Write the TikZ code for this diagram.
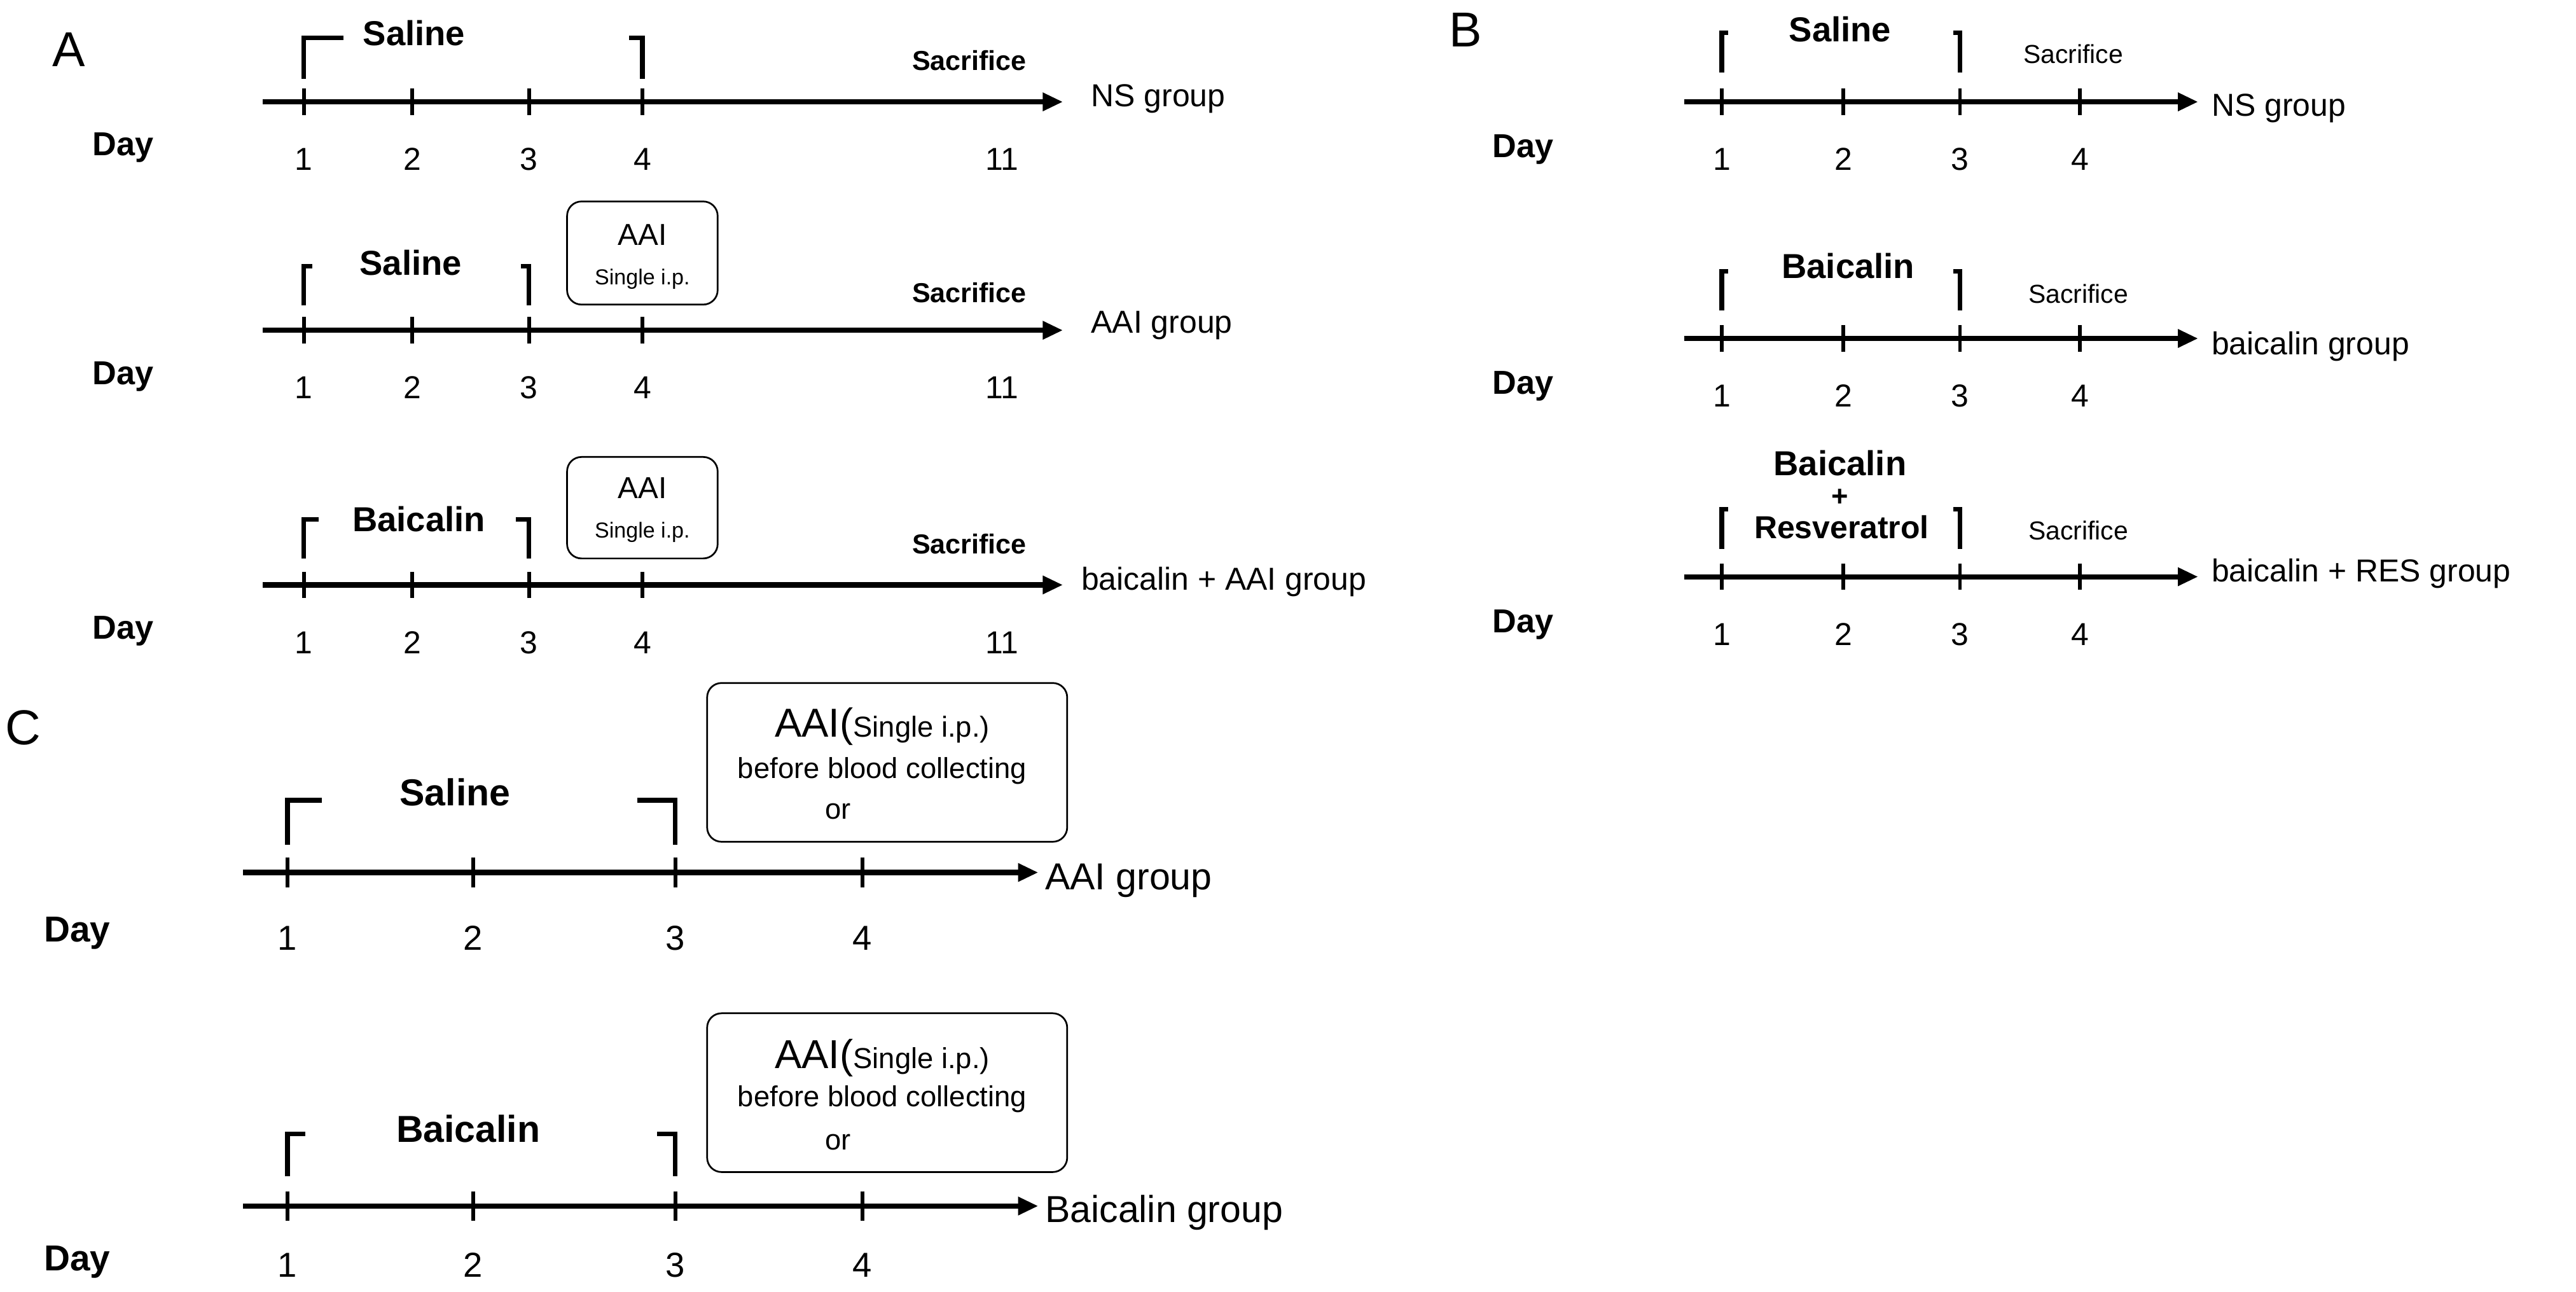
\documentclass[tikz,border=0pt]{standalone}
\usepackage{fontspec}
\setmainfont{Liberation Sans}
\usetikzlibrary{arrows.meta}
\begin{document}
\begin{tikzpicture}[x=0.02cm,y=-0.02cm,
 ax/.style={line width=1.8pt,-{Triangle[length=7pt,width=6pt]}},
 tk/.style={line width=1.3pt},
 br/.style={line width=1.6pt},
 num/.style={font=\fontsize{11}{12}\selectfont},
 day/.style={font=\bfseries\fontsize{11.5}{12}\selectfont},
 trt/.style={font=\bfseries\fontsize{12}{13}\selectfont},
 sac/.style={font=\bfseries\fontsize{9.5}{10}\selectfont},
 grp/.style={font=\fontsize{11}{12}\selectfont,anchor=west},
 box/.style={draw,rounded corners=5pt,line width=0.6pt},
 pl/.style={font=\fontsize{17}{18}\selectfont}]
\useasboundingbox (0,0) rectangle (1568,786);
% ---------- Panel A ----------
\node[pl] (lA) at (42,30) {A};
\foreach \r/\y in {1/62,2/201,3/356}{
  \coordinate (As\r) at (160,\y); \coordinate (Ae\r) at (647,\y);
  \draw[ax] (As\r) -- (Ae\r);
  \foreach \x in {185,251,322,391}{\draw[tk] (\x,\y-8) -- (\x,\y+8);}
  \node[day] (Aday\r) at (75,\y+28) {Day};
  \foreach \x/\n in {185/1,251/2,322/3,391/4,610/11}{\node[num] (An\r\n) at (\x,\y+35) {\n};}
}
% row1
\draw[br] (185,48) -- (185,23) -- (209,23);
\draw[br] (383,23) -- (391,23) -- (391,48);
\node[trt] (As1t) at (252,20) {Saline};
\node[sac] (Asac1) at (590,37) {Sacrifice};
\node[grp] (Ag1) at (658,60) {NS group};
% row2
\draw[br] (185,186) -- (185,162) -- (190,162);
\draw[br] (317,162) -- (322,162) -- (322,186);
\node[trt] (As2t) at (250,160) {Saline};
\node[box,minimum width=92pt*0.567,minimum height=63pt*0.567] (Abox2) at (391,154) {};
\node[font=\fontsize{10.5}{11}\selectfont] (Abox2a) at (391,143) {AAI};
\node[font=\fontsize{7.5}{8}\selectfont] (Abox2b) at (391,170) {Single i.p.};
\node[sac] (Asac2) at (590,178) {Sacrifice};
\node[grp] (Ag2) at (658,198) {AAI group};
% row3
\draw[br] (185,340) -- (185,316) -- (194,316);
\draw[br] (314,316) -- (322,316) -- (322,340);
\node[trt] (As3t) at (255,316) {Baicalin};
\node[box,minimum width=92pt*0.567,minimum height=62pt*0.567] (Abox3) at (391,309) {};
\node[font=\fontsize{10.5}{11}\selectfont] (Abox3a) at (391,297) {AAI};
\node[font=\fontsize{7.5}{8}\selectfont] (Abox3b) at (391,324) {Single i.p.};
\node[sac] (Asac3) at (590,331) {Sacrifice};
\node[grp] (Ag3) at (652,354) {baicalin + AAI group};
% ---------- Panel B ----------
\node[pl] (lB) at (892,18) {B};
\foreach \r/\y in {1/62,2/206,3/351}{
  \coordinate (Bs\r) at (1025,\y); \coordinate (Be\r) at (1338,\y);
  \draw[ax] (Bs\r) -- (Be\r);
  \foreach \x in {1048,1122,1193,1266}{\draw[tk] (\x,\y-8) -- (\x,\y+8);}
  \node[day] (Bday\r) at (927,\y+29) {Day};
  \foreach \x/\n in {1048/1,1122/2,1193/3,1266/4}{\node[num] (Bn\r\n) at (\x,\y+35) {\n};}
}
\draw[br] (1048,44) -- (1048,20) -- (1052,20);
\draw[br] (1189,20) -- (1193,20) -- (1193,44);
\node[trt] (Bt1) at (1120,18) {Saline};
\node[sac,font=\fontsize{9}{10}\selectfont] (Bsac1) at (1262,33) {Sacrifice};
\node[grp] (Bg1) at (1340,66) {NS group};
\draw[br] (1048,189) -- (1048,165) -- (1052,165);
\draw[br] (1189,165) -- (1193,165) -- (1193,189);
\node[trt] (Bt2) at (1125,162) {Baicalin};
\node[sac,font=\fontsize{9}{10}\selectfont] (Bsac2) at (1265,179) {Sacrifice};
\node[grp] (Bg2) at (1340,211) {baicalin group};
\draw[br] (1048,334) -- (1048,310) -- (1052,310);
\draw[br] (1189,310) -- (1193,310) -- (1193,334);
\node[trt,inner sep=1pt] (Bt3a) at (1120,282) {Baicalin};
\node[trt,inner sep=0pt,font=\bfseries\fontsize{10}{10}\selectfont] (Bt3b) at (1120,303) {+};
\node[trt,inner sep=1pt,font=\bfseries\fontsize{11}{12}\selectfont] (Bt3c) at (1121,321) {Resveratrol};
\node[sac,font=\fontsize{9}{10}\selectfont] (Bsac3) at (1265,323) {Sacrifice};
\node[grp] (Bg3) at (1340,349) {baicalin + RES group};
% ---------- Panel C ----------
\node[pl] (lC) at (14,443) {C};
\foreach \r/\y in {1/531,2/734}{
  \coordinate (Cs\r) at (148,\y); \coordinate (Ce\r) at (632,\y);
  \draw[ax] (Cs\r) -- (Ce\r);
  \foreach \x in {175,288,411,525}{\draw[tk] (\x,\y-9) -- (\x,\y+9);}
}
\foreach \x/\n in {175/1,288/2,411/3,525/4}{
  \node[num,font=\fontsize{12}{13}\selectfont] (C1n\n) at (\x,571) {\n};
  \node[num,font=\fontsize{12}{13}\selectfont] (C2n\n) at (\x,770) {\n};}
\node[day,font=\bfseries\fontsize{12.5}{13}\selectfont] (Cd1) at (47,568) {Day};
\node[day,font=\bfseries\fontsize{12.5}{13}\selectfont] (Cd2) at (47,768) {Day};
\draw[br] (175,514) -- (175,487) -- (196,487);
\draw[br] (388,487) -- (411,487) -- (411,514);
\node[trt,font=\bfseries\fontsize{13}{14}\selectfont] (Ct1) at (277,482) {Saline};
\node[box,minimum width=220pt*0.567,minimum height=97pt*0.567] (Cbox1) at (540,464) {};
\node (Cb1a) at (537,442) {\fontsize{14}{15}\selectfont AAI(\fontsize{10}{11}\selectfont Single i.p.)};
\node[font=\fontsize{10}{11}\selectfont] (Cb1b) at (537,469) {before blood collecting};
\node[font=\fontsize{10}{11}\selectfont] (Cb1c) at (510,494) {or};
\node[grp,font=\fontsize{13}{14}\selectfont] (Cg1) at (630,536) {AAI group};
\draw[br] (175,716) -- (175,690) -- (186,690);
\draw[br] (400,690) -- (411,690) -- (411,716);
\node[trt,font=\bfseries\fontsize{13}{14}\selectfont] (Ct2) at (285,687) {Baicalin};
\node[box,minimum width=220pt*0.567,minimum height=97pt*0.567] (Cbox2) at (540,665) {};
\node (Cb2a) at (537,644) {\fontsize{14}{15}\selectfont AAI(\fontsize{10}{11}\selectfont Single i.p.)};
\node[font=\fontsize{10}{11}\selectfont] (Cb2b) at (537,669) {before blood collecting};
\node[font=\fontsize{10}{11}\selectfont] (Cb2c) at (510,695) {or};
\node[grp,font=\fontsize{13}{14}\selectfont] (Cg2) at (630,738) {Baicalin group};
\end{tikzpicture}
\end{document}
